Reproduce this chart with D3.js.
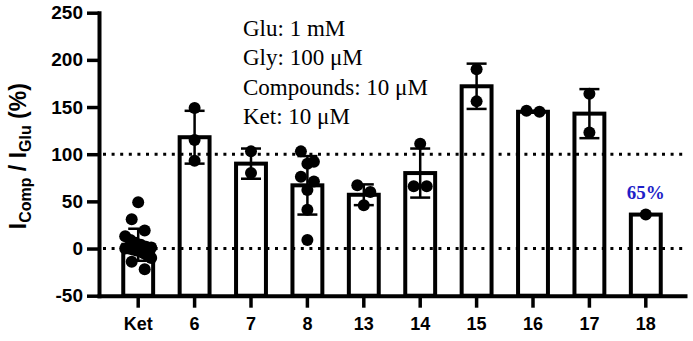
<!DOCTYPE html>
<html>
<head>
<meta charset="utf-8">
<script src="https://cdn.jsdelivr.net/npm/d3@7"></script>
<style>
  body { margin: 0; background: #fff; }
  #chart { width: 693px; height: 341px; }
  .axis text { font-family: "Liberation Sans", Arial, sans-serif; font-weight: bold; fill: #000; }
  .note { font-family: "Liberation Serif", "Times New Roman", serif; font-size: 23px; fill: #000; }
</style>
</head>
<body>
<div id="chart"></div>
<script>
// data
const categories = ["Ket", "6", "7", "8", "13", "14", "15", "16", "17", "18"];
const means = [4, 118, 90, 67, 57, 80, 172, 145, 143, 36];
const sds = [17, 28, 16, 31, 11, 26, 24, 1, 26, 0];
const points = [
  [49, 31, 19, 13, 9, 6, 4, 2, 1, 0, 0, -1, -2, -3, -5, -7, -10, -14, -22],
  [149, 115, 93],
  [103, 80],
  [103, 92, 90, 76, 71, 62, 41, 9],
  [67, 60, 46],
  [111, 66, 66],
  [190, 156],
  [146, 145],
  [164, 123],
  [36]
];
const yTicks = [-50, 0, 50, 100, 150, 200, 250];
const refLines = [0, 100];
const notes = ["Glu: 1 mM", "Gly: 100 μM", "Compounds: 10 μM", "Ket: 10 μM"];
const highlightCat = "18";
const highlightLabel = "65%";

// 1. SVG
const width = 693;
const height = 341;
const margin = { top: 12.7, left: 99, right: 8, bottom: 45.3 };

const svg = d3.select("#chart")
  .append("svg")
  .attr("width", width)
  .attr("height", height);

// 2. SCALES
const xScale = d3.scaleBand()
  .domain(categories)
  .range([margin.left, width - margin.right])
  .paddingInner(0.47)
  .paddingOuter(0.43);

const yScale = d3.scaleLinear()
  .domain([-50, 250])
  .range([height - margin.bottom, margin.top]);

const bw = xScale.bandwidth();
const cx = c => xScale(c) + bw / 2;

// 3. BARS
svg.selectAll(".bar")
  .data(categories)
  .enter()
  .append("rect")
    .attr("class", "bar")
    .attr("x", d => xScale(d))
    .attr("y", (d, i) => yScale(means[i]))
    .attr("width", bw)
    .attr("height", (d, i) => yScale(-50) - yScale(means[i]))
    .attr("fill", "#fff")
    .attr("stroke", "#000")
    .attr("stroke-width", 4);

// 4. DOTTED REFERENCE LINES
svg.selectAll(".ref")
  .data(refLines)
  .enter()
  .append("line")
    .attr("x1", margin.left + 4)
    .attr("x2", width - margin.right)
    .attr("y1", d => yScale(d))
    .attr("y2", d => yScale(d))
    .attr("stroke", "#000")
    .attr("stroke-width", 3)
    .attr("stroke-dasharray", "3,5.6");

// 5. ERROR BARS (mean +/- SD)
const err = svg.selectAll(".err")
  .data(categories.filter((d, i) => sds[i] > 0))
  .enter()
  .append("g")
    .attr("class", "err")
    .attr("stroke", "#000")
    .attr("stroke-width", 2.5);

err.append("line")
  .attr("x1", d => cx(d)).attr("x2", d => cx(d))
  .attr("y1", d => { const i = categories.indexOf(d); return yScale(means[i] + sds[i]); })
  .attr("y2", d => { const i = categories.indexOf(d); return yScale(means[i] - sds[i]); });

[1, -1].forEach(s => {
  err.append("line")
    .attr("x1", d => cx(d) - 10).attr("x2", d => cx(d) + 10)
    .attr("y1", d => { const i = categories.indexOf(d); return yScale(means[i] + s * sds[i]); })
    .attr("y2", d => { const i = categories.indexOf(d); return yScale(means[i] + s * sds[i]); });
});

// 6. SCATTER POINTS - group overlapping values into rows, spread each row sideways
const r = 6;
const dots = [];
categories.forEach((c, ci) => {
  const vals = points[ci].slice().sort((a, b) => b - a);
  let row = [];
  const flush = () => {
    const k = row.length;
    const step = k > 1 ? Math.min(13, 26 / (k - 1)) : 0;
    row.forEach((v, j) => dots.push({ c: c, v: v, dx: (j - (k - 1) / 2) * step }));
    row = [];
  };
  vals.forEach(v => {
    if (row.length && yScale(v) - yScale(row[0]) >= 2 * r) flush();
    row.push(v);
  });
  flush();
});

svg.selectAll(".dot")
  .data(dots)
  .enter()
  .append("circle")
    .attr("class", "dot")
    .attr("cx", d => cx(d.c) + d.dx)
    .attr("cy", d => yScale(d.v))
    .attr("r", r)
    .attr("fill", "#000");

// 7. AXES
const yAxis = svg.append("g")
  .attr("class", "axis")
  .attr("transform", `translate(${margin.left},0)`)
  .call(d3.axisLeft(yScale).tickValues(yTicks).tickFormat(d => String(d))
    .tickSize(12).tickSizeOuter(0).tickPadding(4));

const xAxis = svg.append("g")
  .attr("class", "axis")
  .attr("transform", `translate(0,${height - margin.bottom})`)
  .call(d3.axisBottom(xScale).tickSize(12).tickSizeOuter(0).tickPadding(10));

svg.selectAll(".axis .domain")
  .attr("stroke", "#000")
  .attr("stroke-width", 4)
  .attr("stroke-linecap", "square");
svg.selectAll(".axis .tick line")
  .attr("stroke", "#000")
  .attr("stroke-width", 3.5);
yAxis.selectAll("text").style("font-size", "19px");
xAxis.selectAll("text").style("font-size", "18px");

// 8. AXIS TITLE
const title = svg.append("text")
  .attr("transform", `translate(26,${(margin.top + height - margin.bottom) / 2 + 2}) rotate(-90)`)
  .attr("text-anchor", "middle")
  .style("font-family", "\"Liberation Sans\", Arial, sans-serif")
  .style("font-weight", "bold")
  .style("font-size", "23px")
  .attr("fill", "#000");
title.append("tspan").text("I");
title.append("tspan").attr("dy", 5).style("font-size", "16px").text("Comp");
title.append("tspan").attr("dy", -5).text(" / I");
title.append("tspan").attr("dy", 5).style("font-size", "16px").text("Glu");
title.append("tspan").attr("dy", -5).text(" (%)");

// 9. CONDITIONS NOTE
svg.selectAll(".note")
  .data(notes)
  .enter()
  .append("text")
    .attr("class", "note")
    .attr("x", 243)
    .attr("y", (d, i) => 36 + i * 29.3)
    .text(d => d);

// 10. HIGHLIGHT LABEL
const hi = categories.indexOf(highlightCat);
svg.append("text")
  .attr("x", cx(highlightCat))
  .attr("y", yScale(means[hi]) - 16)
  .attr("text-anchor", "middle")
  .style("font-family", "\"Liberation Serif\", \"Times New Roman\", serif")
  .style("font-weight", "bold")
  .style("font-size", "19px")
  .attr("fill", "#1f1fc8")
  .text(highlightLabel);
</script>
</body>
</html>
